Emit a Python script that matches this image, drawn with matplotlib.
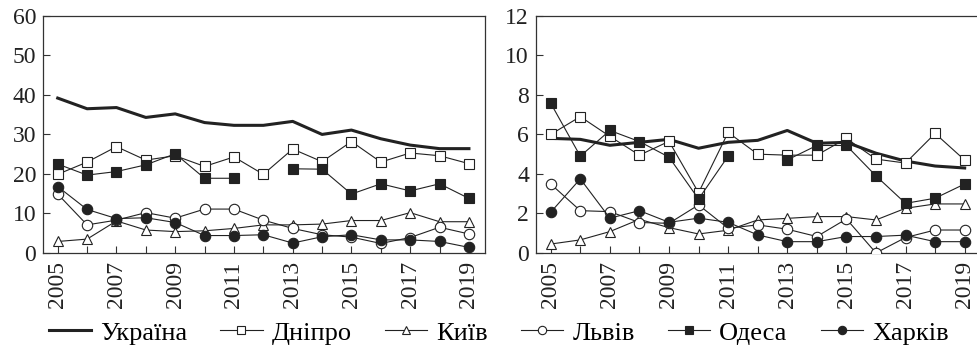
import numpy as np
import matplotlib
matplotlib.use("Agg")
import matplotlib.pyplot as plt

plt.rcParams['font.family'] = ['Liberation Serif', 'DejaVu Serif']
plt.rcParams['font.size'] = 17

years = list(range(2005, 2020))
nan = np.nan

# left panel
left_ukraine = [39.2, 36.5, 36.8, 34.3, 35.2, 33.0, 32.3, 32.3, 33.3, 30.0, 31.1, 28.9, 27.3, 26.4, 26.4]
left_dnipro = [19.9, 23.0, 26.9, 23.5, 24.6, 21.9, 24.3, 19.9, 26.3, 23.1, 28.2, 23.0, 25.3, 24.6, 22.6]
left_kyiv = [2.9, 3.5, 8.1, 5.8, 5.4, 5.6, 6.2, 7.1, 7.1, 7.3, 8.2, 8.2, 10.2, 7.9, 7.9]
left_lviv = [14.9, 7.1, 8.3, 10.2, 8.8, 11.1, 11.1, 8.3, 6.2, 4.6, 4.0, 2.4, 3.9, 6.5, 4.8]
left_odesa = [22.5, 19.7, 20.6, 22.3, 25.1, 18.9, 18.9, nan, 21.3, 21.2, 14.9, 17.5, 15.7, 17.5, 13.8]
left_kharkiv = [16.8, 11.0, 8.7, 8.9, 7.7, 4.4, 4.4, 4.6, 2.5, 4.1, 4.6, 3.3, 3.3, 2.9, 1.4]

# right panel
right_ukraine = [5.8, 5.75, 5.45, 5.6, 5.75, 5.3, 5.6, 5.7, 6.2, 5.55, 5.6, 5.05, 4.65, 4.4, 4.3]
right_dnipro = [6.0, 6.9, 5.9, 4.95, 5.65, 3.05, 6.1, 5.0, 4.95, 4.95, 5.8, 4.75, 4.55, 6.05, 4.7]
right_kyiv = [0.45, 0.66, 1.08, 1.7, 1.28, 0.96, 1.15, 1.67, 1.75, 1.84, 1.84, 1.67, 2.26, 2.48, 2.48]
right_lviv = [3.49, 2.14, 2.09, 1.54, 1.5, 2.43, 1.25, 1.42, 1.2, 0.83, 1.72, 0.0, 0.78, 1.16, 1.16]
right_odesa = [7.58, 4.9, 6.2, 5.64, 4.85, 2.73, 4.9, nan, 4.71, 5.44, 5.44, 3.9, 2.51, 2.77, 3.49]
right_kharkiv = [2.06, 3.75, 1.76, 2.14, 1.55, 1.76, 1.55, 0.91, 0.57, 0.57, 0.83, 0.83, 0.9, 0.57, 0.57]

names = ['Україна', 'Дніпро', 'Київ', 'Львів', 'Одеса', 'Харків']

fig = plt.figure(figsize=(9.78, 3.46), dpi=100)
ax1 = fig.add_axes([0.044, 0.269, 0.452, 0.685])
ax2 = fig.add_axes([0.548, 0.269, 0.455, 0.685])

ms = 7.5
mew = 0.8
lw = 0.8
ink = '#222222'


def draw(ax, ukr, dn, ky, lv, od, kh, ymax, ystep):
    ax.plot(years, ukr, color=ink, lw=2.2, label=names[0], zorder=3)
    ax.plot(years, dn, color=ink, lw=lw, marker='s', ms=ms, mfc='white', mec=ink, mew=mew, label=names[1], zorder=4)
    ax.plot(years, ky, color=ink, lw=lw, marker='^', ms=ms, mfc='white', mec=ink, mew=mew, label=names[2], zorder=4)
    ax.plot(years, lv, color=ink, lw=lw, marker='o', ms=ms, mfc='white', mec=ink, mew=mew, label=names[3], zorder=4)
    ax.plot(years, od, color=ink, lw=lw, marker='s', ms=ms, mfc=ink, mec=ink, mew=mew, label=names[4], zorder=5)
    ax.plot(years, kh, color=ink, lw=lw, marker='o', ms=ms, mfc=ink, mec=ink, mew=mew, label=names[5], zorder=5)

    ax.set_xlim(2004.5, 2019.55)
    ax.set_ylim(0, ymax)
    ax.set_yticks(np.arange(0, ymax + 0.1, ystep))
    ax.set_xticks(years)
    ax.set_xticklabels([str(y) if y % 2 == 1 else '' for y in years], rotation=90)
    ax.tick_params(axis='both', direction='in', length=5, width=0.8, color='#333333', labelsize=17, labelcolor=ink)
    ax.tick_params(axis='x', pad=6)
    ax.tick_params(axis='y', pad=5)
    for s in ax.spines.values():
        s.set_linewidth(0.9)
        s.set_color('#333333')


draw(ax1, left_ukraine, left_dnipro, left_kyiv, left_lviv, left_odesa, left_kharkiv, 60, 10)
draw(ax2, right_ukraine, right_dnipro, right_kyiv, right_lviv, right_odesa, right_kharkiv, 12, 2)

handles, labels = ax1.get_legend_handles_labels()
fig.legend(handles, labels, loc='center', bbox_to_anchor=(0.51, 0.038), ncol=6, frameon=False,
           handlelength=1.6, handletextpad=0.35, columnspacing=1.25, markerscale=0.8, fontsize=19,
           borderpad=0, borderaxespad=0)

fig.savefig('out.png', dpi=100)
